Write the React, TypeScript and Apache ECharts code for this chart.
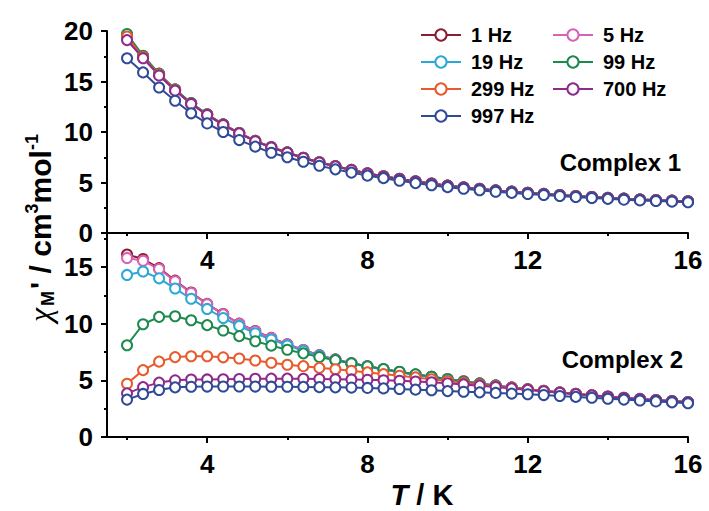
import React, { useEffect, useRef } from 'react';
import * as echarts from 'echarts';

// Temperature (K)
const T = [2.0, 2.4, 2.8, 3.2, 3.6, 4.0, 4.4, 4.8, 5.2, 5.6, 6.0, 6.4, 6.8, 7.2, 7.6, 8.0, 8.4, 8.8,
  9.2, 9.6, 10.0, 10.4, 10.8, 11.2, 11.6, 12.0, 12.4, 12.8, 13.2, 13.6, 14.0, 14.4, 14.8, 15.2, 15.6, 16.0];

const FREQS = ['1 Hz', '5 Hz', '19 Hz', '99 Hz', '299 Hz', '700 Hz', '997 Hz'];
const COLORS = ['#8c1d2e', '#d862b8', '#2aa9d6', '#1b8a4c', '#e85a2c', '#8e2a8c', '#2f4a96'];

const X_LABELS = [4, 8, 12, 16];
const X_MINOR = [2, 6, 10, 14];
const Y2_LABELS = [0, 5, 10, 15];
const Y2_MINOR = [2.5, 7.5, 12.5, 17.5];

// Complex 1
const c1_1Hz = [19.6, 17.5, 15.75, 14.2, 12.85, 11.75, 10.75, 9.9, 9.12, 8.5, 7.98, 7.45, 7.0, 6.62, 6.25, 5.9, 5.62, 5.36, 5.11, 4.9, 4.69, 4.52, 4.37, 4.22, 4.1, 3.98, 3.87, 3.76, 3.66, 3.57, 3.48, 3.4, 3.32, 3.26, 3.2, 3.14];
const c1_5Hz = [19.55, 17.48, 15.72, 14.18, 12.84, 11.74, 10.74, 9.89, 9.11, 8.49, 7.97, 7.44, 6.99, 6.61, 6.24, 5.9, 5.61, 5.35, 5.1, 4.89, 4.68, 4.51, 4.36, 4.21, 4.09, 3.97, 3.86, 3.75, 3.65, 3.56, 3.47, 3.39, 3.31, 3.25, 3.19, 3.13];
const c1_19Hz = [19.5, 17.45, 15.7, 14.16, 12.82, 11.72, 10.72, 9.88, 9.1, 8.48, 7.96, 7.43, 6.98, 6.6, 6.23, 5.89, 5.6, 5.34, 5.1, 4.88, 4.68, 4.5, 4.35, 4.21, 4.08, 3.97, 3.86, 3.75, 3.65, 3.55, 3.47, 3.38, 3.31, 3.24, 3.18, 3.12];
const c1_99Hz = [19.7, 17.55, 15.78, 14.22, 12.86, 11.76, 10.75, 9.9, 9.12, 8.5, 7.98, 7.45, 7.0, 6.62, 6.25, 5.9, 5.62, 5.36, 5.11, 4.9, 4.69, 4.52, 4.37, 4.22, 4.1, 3.98, 3.87, 3.76, 3.66, 3.57, 3.48, 3.4, 3.32, 3.26, 3.2, 3.14];
const c1_299Hz = [19.45, 17.42, 15.68, 14.15, 12.8, 11.7, 10.7, 9.86, 9.09, 8.47, 7.95, 7.43, 6.98, 6.6, 6.23, 5.89, 5.6, 5.34, 5.1, 4.88, 4.68, 4.5, 4.35, 4.2, 4.08, 3.96, 3.85, 3.74, 3.64, 3.55, 3.46, 3.38, 3.3, 3.24, 3.18, 3.12];
const c1_700Hz = [19.1, 17.3, 15.6, 14.1, 12.78, 11.68, 10.7, 9.86, 9.09, 8.47, 7.95, 7.43, 6.98, 6.6, 6.23, 5.89, 5.6, 5.34, 5.1, 4.88, 4.68, 4.5, 4.35, 4.2, 4.08, 3.96, 3.85, 3.74, 3.64, 3.55, 3.46, 3.38, 3.3, 3.24, 3.18, 3.12];
const c1_997Hz = [17.3, 15.9, 14.4, 13.1, 11.85, 10.85, 10.0, 9.2, 8.55, 7.95, 7.5, 7.06, 6.66, 6.3, 5.98, 5.68, 5.43, 5.18, 4.94, 4.73, 4.54, 4.38, 4.23, 4.09, 3.97, 3.86, 3.76, 3.66, 3.56, 3.47, 3.38, 3.3, 3.23, 3.17, 3.11, 3.05];

// Complex 2
const c2_1Hz = [16.1, 15.7, 14.9, 13.8, 12.75, 11.75, 10.85, 10.0, 9.35, 8.75, 8.18, 7.68, 7.22, 6.85, 6.52, 6.24, 5.98, 5.74, 5.52, 5.32, 5.12, 4.92, 4.73, 4.55, 4.38, 4.22, 4.08, 3.94, 3.81, 3.69, 3.57, 3.46, 3.36, 3.26, 3.17, 3.08];
const c2_5Hz = [15.8, 15.55, 14.82, 13.74, 12.7, 11.72, 10.82, 9.98, 9.33, 8.73, 8.16, 7.66, 7.2, 6.84, 6.51, 6.23, 5.97, 5.73, 5.51, 5.31, 5.11, 4.91, 4.72, 4.54, 4.37, 4.21, 4.07, 3.93, 3.8, 3.68, 3.56, 3.45, 3.35, 3.25, 3.16, 3.07];
const c2_19Hz = [14.3, 14.6, 14.0, 13.1, 12.2, 11.3, 10.5, 9.8, 9.15, 8.6, 8.08, 7.6, 7.16, 6.8, 6.48, 6.2, 5.95, 5.71, 5.5, 5.3, 5.1, 4.9, 4.71, 4.53, 4.36, 4.2, 4.06, 3.92, 3.79, 3.67, 3.55, 3.44, 3.34, 3.24, 3.15, 3.06];
const c2_99Hz = [8.1, 9.95, 10.6, 10.65, 10.3, 9.87, 9.4, 8.9, 8.45, 8.06, 7.7, 7.38, 7.06, 6.78, 6.5, 6.24, 6.0, 5.76, 5.53, 5.31, 5.1, 4.9, 4.71, 4.53, 4.36, 4.2, 4.06, 3.92, 3.79, 3.67, 3.55, 3.44, 3.34, 3.24, 3.15, 3.06];
const c2_299Hz = [4.7, 5.9, 6.65, 7.05, 7.12, 7.12, 7.03, 6.93, 6.75, 6.55, 6.38, 6.25, 6.1, 5.98, 5.84, 5.7, 5.55, 5.4, 5.26, 5.1, 4.94, 4.78, 4.62, 4.47, 4.33, 4.19, 4.05, 3.92, 3.79, 3.67, 3.55, 3.44, 3.34, 3.24, 3.15, 3.06];
const c2_700Hz = [3.85, 4.4, 4.8, 5.0, 5.07, 5.08, 5.1, 5.12, 5.14, 5.15, 5.15, 5.14, 5.12, 5.1, 5.08, 5.05, 5.01, 4.96, 4.9, 4.83, 4.74, 4.64, 4.53, 4.41, 4.29, 4.16, 4.03, 3.9, 3.78, 3.66, 3.55, 3.44, 3.34, 3.24, 3.15, 3.06];
const c2_997Hz = [3.3, 3.8, 4.15, 4.38, 4.43, 4.45, 4.46, 4.46, 4.45, 4.44, 4.43, 4.42, 4.4, 4.38, 4.36, 4.33, 4.29, 4.24, 4.18, 4.12, 4.05, 3.99, 3.94, 3.89, 3.83, 3.77, 3.7, 3.62, 3.54, 3.46, 3.38, 3.3, 3.22, 3.14, 3.06, 2.98];

const C1 = [c1_1Hz, c1_5Hz, c1_19Hz, c1_99Hz, c1_299Hz, c1_700Hz, c1_997Hz];
const C2 = [c2_1Hz, c2_5Hz, c2_19Hz, c2_99Hz, c2_299Hz, c2_700Hz, c2_997Hz];

const FONT = '"Liberation Sans", Arial, Helvetica, sans-serif';

export default function App() {
  const ref = useRef<HTMLDivElement>(null);
  useEffect(() => {
    document.body.style.margin = '0';
    const chart = echarts.init(ref.current!, null, { renderer: 'svg' });

    const mkSeries = (name: string, color: string, data: number[], idx: number) => ({
      name,
      type: 'line',
      xAxisIndex: idx,
      yAxisIndex: idx,
      data: T.map((t, i) => [t, data[i]]),
      symbol: 'emptyCircle',
      symbolSize: 10,
      showSymbol: true,
      color,
      lineStyle: { width: 2, color },
      itemStyle: { color, borderWidth: 1.5 },
      emphasis: { disabled: true },
    });

    const series: any[] = [];
    FREQS.forEach((f, i) => series.push(mkSeries(f, COLORS[i], C1[i], 0)));
    FREQS.forEach((f, i) => series.push(mkSeries(f, COLORS[i], C2[i], 1)));

    const axisLine = { show: true, onZero: false, lineStyle: { color: '#000', width: 2 } };
    const labelStyle = { color: '#000', fontSize: 26, fontWeight: 'bold', fontFamily: FONT };

    const mainX = (gridIndex: number) => ({
      type: 'value', gridIndex, min: 1.5, max: 16, position: 'bottom',
      axisLine,
      axisTick: { show: true, customValues: X_LABELS, length: 6, lineStyle: { color: '#000', width: 2 } },
      axisLabel: { show: true, customValues: X_LABELS, margin: 14, ...labelStyle },
      splitLine: { show: false },
    });
    const minorX = (gridIndex: number) => ({
      type: 'value', gridIndex, min: 1.5, max: 16, position: 'bottom',
      axisLine: { show: false, onZero: false },
      axisTick: { show: true, customValues: X_MINOR, length: 3, lineStyle: { color: '#000', width: 2 } },
      axisLabel: { show: false },
      splitLine: { show: false },
    });

    const legendCommon = {
      orient: 'vertical',
      top: 20,
      itemWidth: 40,
      itemHeight: 14,
      itemGap: 7,
      textStyle: { color: '#000', fontSize: 20, lineHeight: 20, fontWeight: 'bold', fontFamily: FONT, padding: [0, 0, 0, 5] },
      selectedMode: false,
    };

    const option: any = {
      animation: false,
      backgroundColor: '#fff',
      grid: [
        { left: 107, right: 21, top: 31, height: 202 },
        { left: 107, right: 21, top: 233, height: 204 },
      ],
      xAxis: [mainX(0), mainX(1), minorX(0), minorX(1)],
      yAxis: [
        {
          type: 'value', gridIndex: 0, min: 0, max: 20, interval: 5, position: 'left',
          axisLine,
          axisTick: { show: true, length: 6, lineStyle: { color: '#000', width: 2 } },
          minorTick: { show: true, splitNumber: 2, length: 3, lineStyle: { color: '#000', width: 2 } },
          axisLabel: { margin: 14, ...labelStyle },
          splitLine: { show: false },
          minorSplitLine: { show: false },
        },
        {
          type: 'value', gridIndex: 1, min: 0, max: 18, position: 'left',
          axisLine,
          axisTick: { show: true, customValues: Y2_LABELS, length: 6, lineStyle: { color: '#000', width: 2 } },
          axisLabel: { customValues: Y2_LABELS, margin: 14, ...labelStyle },
          splitLine: { show: false },
        },
        {
          type: 'value', gridIndex: 1, min: 0, max: 18, position: 'left',
          axisLine: { show: false, onZero: false },
          axisTick: { show: true, customValues: Y2_MINOR, length: 3, lineStyle: { color: '#000', width: 2 } },
          axisLabel: { show: false },
          splitLine: { show: false },
        },
      ],
      legend: [
        { ...legendCommon, left: 415, data: ['1 Hz', '19 Hz', '299 Hz', '997 Hz'] },
        { ...legendCommon, left: 547, data: ['5 Hz', '99 Hz', '700 Hz'] },
      ],
      series,
      graphic: [
        {
          type: 'text',
          x: 40,
          y: 228,
          rotation: Math.PI / 2,
          style: {
            text: "{chi|χ}{sub|M}{m|' / cm}{sup|3}{m|mol}{sup|-1}",
            align: 'center',
            verticalAlign: 'middle',
            rich: {
              chi: { fontSize: 32, fontStyle: 'italic', fontFamily: '"Liberation Serif", "DejaVu Serif", serif', fill: '#000', lineHeight: 34 },
              sub: { fontSize: 18, fontWeight: 'bold', fontFamily: FONT, fill: '#000', verticalAlign: 'bottom', lineHeight: 18, padding: [0, 2, 0, 2] },
              m: { fontSize: 30, fontWeight: 'bold', fontFamily: FONT, fill: '#000', lineHeight: 34 },
              sup: { fontSize: 18, fontWeight: 'bold', fontFamily: FONT, fill: '#000', verticalAlign: 'top', lineHeight: 18 },
            },
          },
        },
        {
          type: 'text',
          x: 422,
          y: 495,
          style: {
            text: '{it|T}{m| / K}',
            align: 'center',
            verticalAlign: 'middle',
            rich: {
              it: { fontSize: 29, lineHeight: 28, fontWeight: 'bold', fontStyle: 'italic', fontFamily: FONT, fill: '#000' },
              m: { fontSize: 29, lineHeight: 28, fontWeight: 'bold', fontFamily: FONT, fill: '#000' },
            },
          },
        },
        {
          type: 'text',
          x: 681,
          y: 162,
          style: { text: 'Complex 1', align: 'right', verticalAlign: 'middle', fontSize: 24, fontWeight: 'bold', fontFamily: FONT, fill: '#000' },
        },
        {
          type: 'text',
          x: 683,
          y: 359,
          style: { text: 'Complex 2', align: 'right', verticalAlign: 'middle', fontSize: 24, fontWeight: 'bold', fontFamily: FONT, fill: '#000' },
        },
      ],
    };

    chart.setOption(option);
    return () => chart.dispose();
  }, []);

  return <div ref={ref} style={{ width: 709, height: 511 }} />;
}
